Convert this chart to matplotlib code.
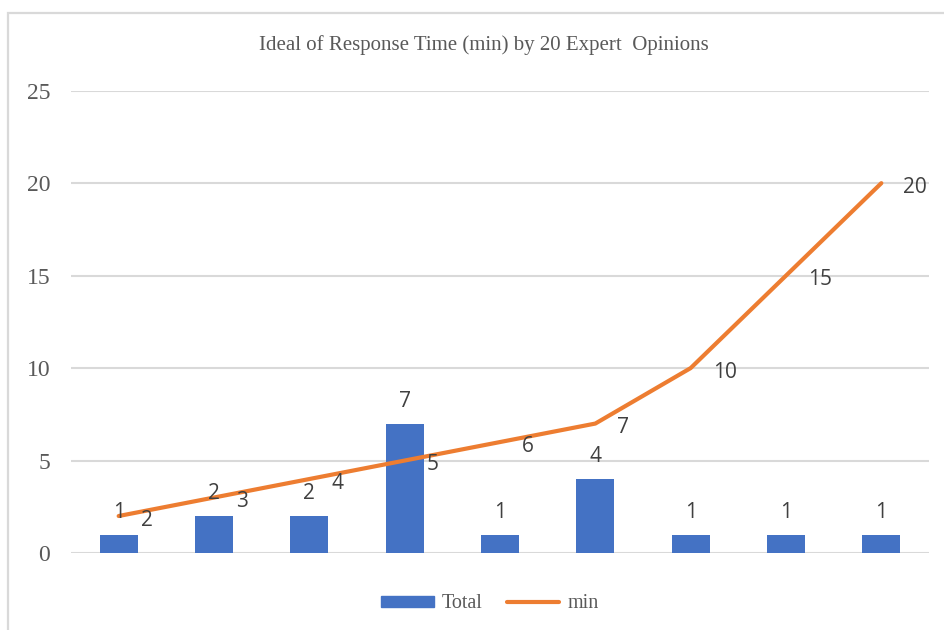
import numpy as np
import matplotlib.pyplot as plt
from matplotlib.patches import Rectangle
from matplotlib.lines import Line2D

# expert opinions: how many experts picked each response time
response_min = [2, 3, 4, 5, 6, 7, 10, 15, 20]
total_experts = [1, 2, 2, 7, 1, 4, 1, 1, 1]
y_ticks = [0, 5, 10, 15, 20, 25]

blue = "#4472C4"
orange = "#ED7D31"
grid_c = "#D9D9D9"
text_c = "#595959"
label_c = "#404040"
serif = ["Liberation Serif", "DejaVu Serif"]
sans = ["Open Sans", "DejaVu Sans"]

fig = plt.figure(figsize=(9.45, 6.3), dpi=100)
ax = fig.add_axes([71/945, 77/630, 858/945, 462.3/630])

# chart border
fig.patches.append(Rectangle((8/945, -0.1), 1.2, (617/630) + 0.1, transform=fig.transFigure,
                             fill=False, edgecolor=grid_c, linewidth=1.6, zorder=0))

x = np.arange(len(response_min))
bars = ax.bar(x, total_experts, width=0.4, color=blue, zorder=2)
ax.plot(x, response_min, color=orange, linewidth=3, solid_capstyle="round", zorder=3)

for xi, v in zip(x, total_experts):
    ax.annotate(str(v), (xi, v), xytext=(0, 12), textcoords="offset pixels",
                ha="center", va="bottom", fontsize=15, color=label_c, family=sans)
for xi, v in zip(x, response_min):
    ax.annotate(str(v), (xi, v), xytext=(22, -4), textcoords="offset pixels",
                ha="left", va="center", fontsize=15, color=label_c, family=sans)

ax.set_xlim(-0.5, len(x) - 0.5)
ax.set_ylim(0, 25)
ax.set_yticks(y_ticks)
ax.set_xticks([])
for t in y_ticks:
    ax.axhline(t, color=grid_c, linewidth=1.5, zorder=1)
for s in ax.spines.values():
    s.set_visible(False)
ax.tick_params(axis="y", length=0, pad=15, labelsize=17, labelcolor=text_c)
for lab in ax.get_yticklabels():
    lab.set_family(serif)

fig.text(484/945, 1 - 45/630, "Ideal of Response Time (min) by 20 Expert  Opinions",
         ha="center", va="center", fontsize=15, color=text_c, family=serif)

handles = [Rectangle((0, 0), 1, 1, color=blue),
           Line2D([0], [0], color=orange, linewidth=3, solid_capstyle="round")]
fig.legend(handles, ["Total", "min"], loc="center", bbox_to_anchor=(490/945, 1 - 604/630),
           ncol=2, frameon=False, prop={"family": serif, "size": 14.5},
           labelcolor=text_c, handlelength=2.6, handleheight=0.45, columnspacing=1.2,
           handletextpad=0.4)

fig.savefig("out.png", dpi=100)
